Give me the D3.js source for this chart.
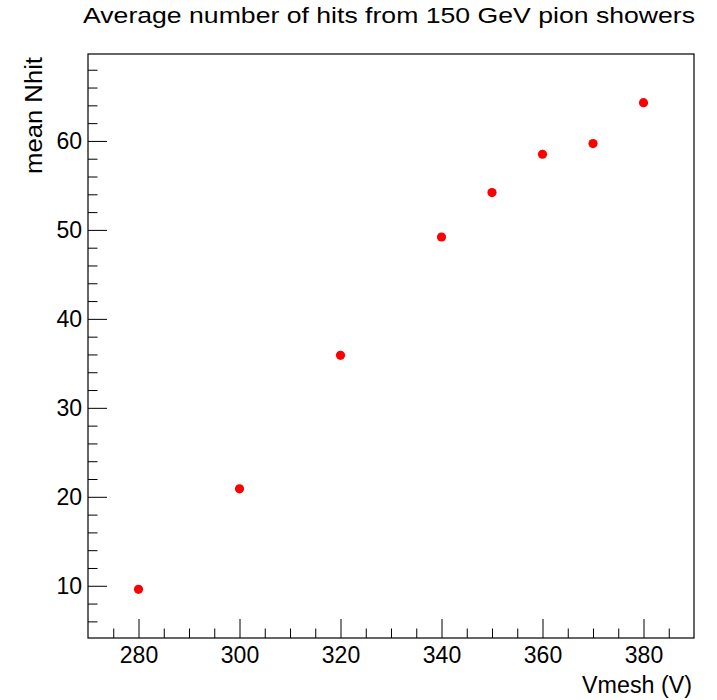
<!DOCTYPE html>
<html>
<head>
<meta charset="utf-8">
<script src="https://cdn.jsdelivr.net/npm/d3@7"></script>
<style>
  body { margin: 0; background: #fff; }
  text { font-family: "Liberation Sans", Arial, Helvetica, sans-serif; fill: #000; }
</style>
</head>
<body>
<svg id="chart" width="717" height="700"></svg>
<script>
// data
var vmesh = [280, 300, 320, 340, 350, 360, 370, 380];
var meanNhit = [9.6, 20.9, 35.9, 49.2, 54.2, 58.5, 59.7, 64.3];
var xTicks = [280, 300, 320, 340, 360, 380];
var yTicks = [10, 20, 30, 40, 50, 60];
var titleText = "Average number of hits from 150 GeV pion showers";
var xTitle = "Vmesh (V)";
var yTitle = "mean Nhit";

var svg = d3.select("#chart");
var padL = 88, padR = 694, padT = 54, padB = 638;

var x = d3.scaleLinear().domain([270, 390]).range([padL, padR]);
var y = d3.scaleLinear().domain([4.13, 69.77]).range([padB, padT]);

// frame
svg.append("rect")
  .attr("x", padL).attr("y", padT)
  .attr("width", padR - padL).attr("height", padB - padT)
  .attr("fill", "none").attr("stroke", "#000").attr("stroke-width", 1.2);

// x axis ticks (major every 20, minor every 5)
var xMinor = d3.range(275, 390, 5).filter(function (v) { return v % 20 !== 0; });
var gx = svg.append("g").attr("transform", "translate(0," + padB + ")");
gx.call(d3.axisBottom(x).tickValues(xMinor).tickSize(-9.5).tickFormat(""));
gx.append("g").call(d3.axisBottom(x).tickValues(xTicks).tickSize(-19).tickPadding(25)
  .tickFormat(d3.format("d")));
gx.selectAll(".domain").remove();
gx.selectAll("line").attr("stroke", "#000");
gx.selectAll("text").attr("font-size", 23).attr("dy", 0).attr("fill", "#000");

// y axis ticks (major every 10, minor every 2)
var yMinor = d3.range(6, 70, 2).filter(function (v) { return v % 10 !== 0; });
var gy = svg.append("g").attr("transform", "translate(" + padL + ",0)");
gy.call(d3.axisLeft(y).tickValues(yMinor).tickSize(-9.5).tickFormat(""));
gy.append("g").call(d3.axisLeft(y).tickValues(yTicks).tickSize(-19).tickPadding(6)
  .tickFormat(d3.format("d")));
gy.selectAll(".domain").remove();
gy.selectAll("line").attr("stroke", "#000");
gy.selectAll("text").attr("font-size", 23).attr("fill", "#000");

// points
svg.append("g").selectAll("circle")
  .data(vmesh)
  .join("circle")
  .attr("cx", function (d) { return x(d); })
  .attr("cy", function (d, i) { return y(meanNhit[i]); })
  .attr("r", 4.6)
  .attr("fill", "#ff0000");

// titles
svg.append("text")
  .attr("x", 695).attr("y", 23)
  .attr("text-anchor", "end")
  .attr("font-size", 22.5)
  .attr("textLength", 612)
  .attr("lengthAdjust", "spacingAndGlyphs")
  .text(titleText);

svg.append("text")
  .attr("x", 692).attr("y", 693)
  .attr("text-anchor", "end")
  .attr("font-size", 23)
  .attr("textLength", 110)
  .attr("lengthAdjust", "spacingAndGlyphs")
  .text(xTitle);

svg.append("text")
  .attr("transform", "translate(42,57) rotate(-90)")
  .attr("text-anchor", "end")
  .attr("font-size", 23)
  .attr("textLength", 117)
  .attr("lengthAdjust", "spacingAndGlyphs")
  .text(yTitle);
</script>
</body>
</html>
